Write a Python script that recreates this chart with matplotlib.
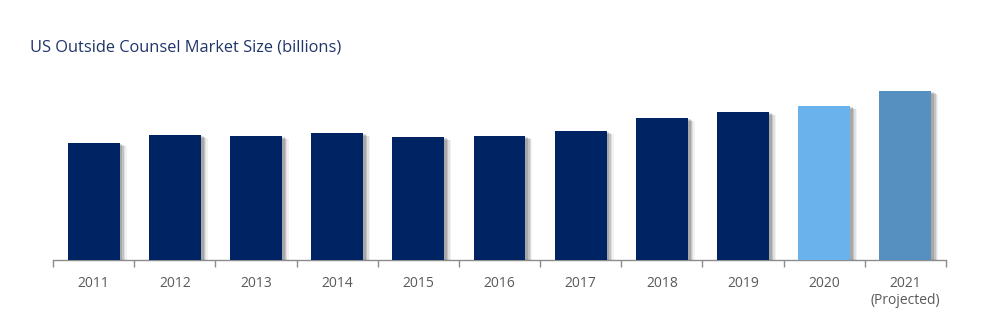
import matplotlib
matplotlib.use("Agg")
import matplotlib.pyplot as plt
import matplotlib.patheffects as pe
import numpy as np

# data (billions)
years = ["2011", "2012", "2013", "2014", "2015", "2016",
         "2017", "2018", "2019", "2020", "2021\n(Projected)"]
values = [70.2, 75.0, 74.4, 76.2, 73.8, 74.4, 77.4, 85.2, 88.8, 92.4, 101.4]
colors = ["#002463"] * 9 + ["#6AB2EC", "#5590C1"]

plt.rcParams['font.family'] = ['Open Sans', 'DejaVu Sans']

fig = plt.figure(figsize=(9.88, 3.34), dpi=100)
ax = fig.add_axes([53 / 988, (334 - 260) / 334, (946 - 53) / 988, 200 / 334])

x = np.arange(len(years))
bars = ax.bar(x, values, width=0.64, color=colors, zorder=3)

# soft drop shadow (stacked offsets to fake a blur)
shadow = [pe.SimplePatchShadow(offset=(o, -o * 0.5), shadow_rgbFace="#000000", alpha=a)
          for o, a in [(5, 0.05), (4, 0.08), (3, 0.12), (2, 0.14)]]
for b in bars:
    b.set_path_effects(shadow + [pe.Normal()])

ax.set_xlim(-0.5, len(years) - 0.5)
ax.set_ylim(0, 120)
ax.set_yticks([])
for s in ["top", "right", "left"]:
    ax.spines[s].set_visible(False)
ax.spines["bottom"].set_color("#8C8C8C")
ax.spines["bottom"].set_linewidth(1.0)

ax.set_xticks(x)
ax.set_xticklabels(years, fontsize=10, color="#595959", linespacing=1.2, va="top")
ax.tick_params(axis="x", which="major", length=0, pad=11.5)
ax.set_xticks(np.arange(-0.5, len(years)), minor=True)
ax.tick_params(axis="x", which="minor", length=5, color="#8C8C8C", width=1.0)

fig.text(30 / 988, 1 - 47 / 334, "US Outside Counsel Market Size (billions)",
         fontsize=11.8, color="#1F3468", ha="left", va="center")

fig.savefig("out.png", dpi=100)
